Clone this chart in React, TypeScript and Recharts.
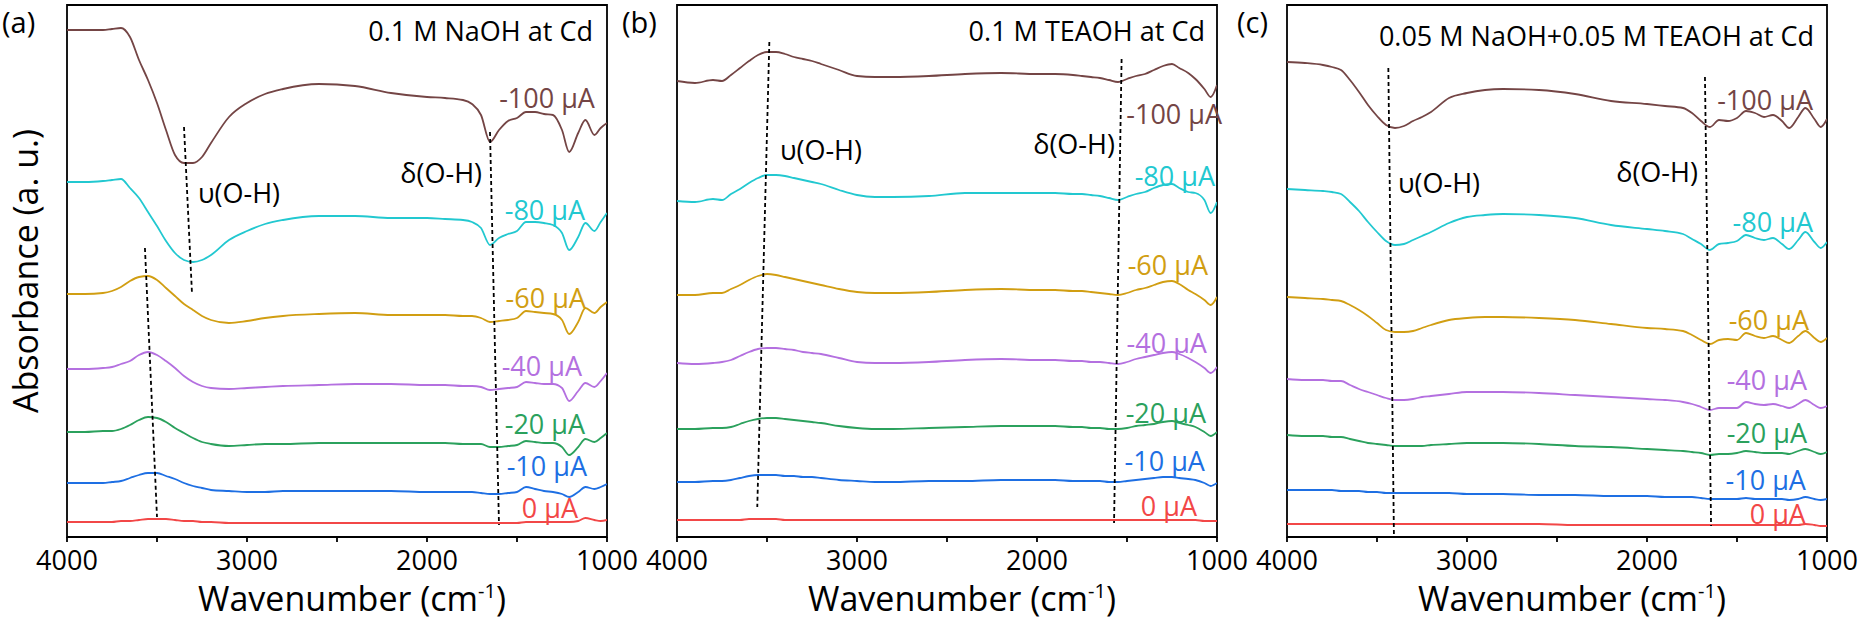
import React from 'react';
import { LineChart, Line, XAxis, YAxis, ReferenceLine, ReferenceDot, ReferenceArea } from 'recharts';

// Wavenumber grid (cm-1)
const WN = [4000, 3900, 3800, 3750, 3700, 3650, 3600, 3550, 3500, 3450, 3400, 3350, 3300, 3250, 3200, 3100, 3000, 2900, 2800, 2600, 2400, 2200, 2000, 1900, 1800, 1750, 1700, 1650, 1600, 1550, 1500, 1450, 1400, 1350, 1300, 1250, 1210, 1160, 1120, 1070, 1035, 1000];

const X_TICKS = [4000, 3500, 3000, 2500, 2000, 1500, 1000];
const X_TICK_LABELS = [4000, 3000, 2000, 1000];

const SERIES_KEYS = ['uA0', 'uA10', 'uA20', 'uA40', 'uA60', 'uA80', 'uA100'];
const SERIES_NAMES = ['0 μA', '-10 μA', '-20 μA', '-40 μA', '-60 μA', '-80 μA', '-100 μA'];

// (a) 0.1 M NaOH at Cd — stacked absorbance (a.u.)
const A_UA0 = [15, 15, 15, 15, 16, 16, 17, 18, 18, 18, 17, 16, 16, 15, 15, 14, 14, 14, 14, 14, 14, 14, 14, 14, 14, 14, 14, 14, 14, 14, 14, 15, 15, 15, 15, 15, 15, 16, 19, 17, 16, 17];
const A_UA10 = [54, 54, 54, 55, 56, 59, 62, 64, 64, 61, 58, 54, 51, 49, 47, 46, 45, 45, 46, 46, 46, 46, 45, 45, 45, 45, 44, 43, 43, 44, 45, 50, 48, 46, 45, 43, 40, 45, 50, 48, 50, 53];
const A_UA20 = [105, 105, 106, 106, 108, 112, 117, 120, 119, 115, 109, 104, 99, 95, 93, 91, 92, 93, 93, 94, 94, 94, 94, 94, 93, 93, 93, 90, 90, 91, 92, 96, 95, 94, 94, 90, 82, 90, 98, 95, 99, 104];
const A_UA40 = [168, 168, 169, 170, 173, 176, 182, 185, 182, 176, 169, 161, 155, 151, 149, 148, 149, 150, 151, 152, 153, 153, 152, 152, 151, 151, 150, 147, 148, 149, 150, 155, 154, 153, 153, 149, 136, 146, 154, 150, 156, 164];
const A_UA60 = [243, 243, 244, 246, 250, 256, 260, 261, 257, 249, 241, 233, 227, 221, 217, 214, 216, 219, 221, 223, 224, 222, 222, 222, 221, 221, 219, 215, 216, 217, 219, 226, 225, 224, 223, 217, 203, 215, 229, 224, 230, 235];
const A_UA80 = [355, 355, 356, 357, 358, 349, 339, 325, 311, 296, 284, 277, 275, 277, 282, 297, 306, 313, 317, 321, 321, 319, 319, 318, 317, 315, 309, 292, 299, 303, 306, 315, 315, 314, 312, 304, 287, 300, 314, 306, 315, 324];
const A_UA100 = [507, 507, 507, 508, 509, 500, 477, 457, 434, 407, 382, 374, 374, 380, 394, 420, 434, 443, 448, 453, 451, 444, 440, 439, 437, 433, 422, 395, 407, 416, 419, 425, 425, 423, 422, 407, 385, 404, 417, 402, 409, 414];

// (b) 0.1 M TEAOH at Cd
const B_UA0 = [17, 17, 17, 17, 17, 17, 18, 18, 18, 18, 17, 17, 17, 17, 17, 17, 17, 17, 17, 17, 17, 17, 17, 17, 17, 17, 17, 17, 17, 17, 17, 17, 17, 17, 17, 17, 17, 17, 17, 16, 16, 16];
const B_UA10 = [55, 55, 56, 56, 57, 59, 61, 62, 62, 62, 61, 61, 60, 60, 59, 57, 56, 55, 55, 56, 56, 57, 57, 57, 56, 56, 56, 56, 55, 55, 56, 57, 58, 59, 60, 60, 59, 58, 57, 54, 51, 54];
const B_UA20 = [108, 108, 109, 109, 110, 113, 116, 118, 119, 119, 118, 117, 116, 115, 114, 111, 109, 108, 108, 109, 110, 111, 111, 111, 110, 110, 109, 109, 108, 108, 109, 111, 112, 113, 115, 116, 114, 112, 110, 105, 101, 105];
const B_UA40 = [174, 173, 174, 175, 177, 181, 185, 188, 189, 189, 188, 187, 185, 184, 183, 179, 175, 174, 174, 175, 177, 178, 177, 177, 176, 176, 175, 175, 174, 173, 175, 178, 180, 182, 184, 185, 183, 179, 175, 169, 164, 170];
const B_UA60 = [242, 242, 244, 244, 248, 252, 257, 261, 263, 262, 260, 258, 256, 254, 252, 248, 245, 244, 244, 245, 247, 248, 247, 247, 246, 246, 245, 244, 243, 242, 244, 247, 249, 252, 255, 256, 253, 247, 243, 237, 232, 240];
const B_UA80 = [336, 335, 338, 337, 343, 348, 354, 359, 362, 362, 361, 359, 357, 355, 353, 347, 342, 340, 340, 341, 344, 344, 344, 344, 343, 343, 342, 341, 339, 337, 340, 343, 345, 349, 352, 353, 349, 345, 344, 337, 324, 335];
const B_UA100 = [456, 454, 457, 456, 462, 469, 476, 482, 485, 485, 483, 480, 478, 476, 473, 467, 461, 460, 460, 461, 463, 464, 463, 463, 462, 461, 460, 459, 457, 455, 458, 461, 463, 467, 471, 473, 469, 464, 458, 448, 440, 452];

// (c) 0.05 M NaOH + 0.05 M TEAOH at Cd
const C_UA0 = [13, 13, 13, 13, 13, 13, 13, 13, 13, 13, 13, 13, 13, 13, 13, 13, 13, 13, 13, 13, 12, 12, 12, 12, 12, 12, 12, 12, 12, 12, 12, 12, 12, 12, 12, 12, 12, 12, 13, 12, 11, 11];
const C_UA10 = [47, 47, 47, 47, 46, 46, 46, 45, 45, 44, 44, 44, 44, 44, 44, 44, 43, 43, 43, 42, 42, 41, 41, 40, 40, 40, 39, 38, 38, 38, 38, 39, 38, 38, 38, 38, 37, 38, 40, 38, 37, 38];
const C_UA20 = [102, 101, 101, 100, 100, 98, 96, 94, 93, 92, 91, 91, 91, 91, 92, 93, 94, 94, 94, 93, 91, 90, 88, 87, 86, 85, 84, 82, 83, 83, 84, 86, 85, 84, 84, 84, 83, 86, 88, 85, 83, 85];
const C_UA40 = [158, 157, 157, 156, 156, 152, 148, 145, 142, 139, 137, 137, 138, 140, 141, 143, 145, 145, 145, 144, 142, 140, 138, 137, 135, 133, 130, 127, 129, 129, 129, 135, 133, 132, 133, 131, 129, 133, 137, 132, 129, 131];
const C_UA60 = [240, 239, 238, 237, 236, 232, 227, 221, 214, 207, 205, 205, 206, 209, 212, 217, 219, 220, 220, 219, 217, 213, 209, 208, 206, 202, 197, 193, 197, 198, 197, 204, 201, 199, 201, 197, 194, 201, 206, 199, 195, 199];
const C_UA80 = [348, 347, 346, 345, 343, 335, 326, 315, 305, 296, 292, 293, 297, 301, 305, 314, 320, 322, 323, 322, 319, 312, 308, 306, 303, 298, 293, 287, 293, 294, 296, 302, 299, 297, 299, 293, 288, 297, 305, 295, 289, 295];
const C_UA100 = [475, 474, 472, 470, 467, 457, 445, 432, 421, 412, 409, 411, 416, 420, 425, 439, 444, 447, 448, 447, 443, 436, 433, 431, 429, 424, 416, 410, 417, 416, 419, 426, 424, 420, 422, 416, 409, 420, 429, 418, 410, 418];

const TITLES = ['0.1 M NaOH at Cd', '0.1 M TEAOH at Cd', '0.05 M NaOH+0.05 M TEAOH at Cd'];

// ---------- layout / style (not data) ----------
const COLORS = ['#F24747', '#1E6FE3', '#2BA15D', '#B470E0', '#D19E12', '#22C8D0', '#744545'];
const FONT = '"Open Sans", "Noto Sans", sans-serif';
const W = 1862;
const H = 623;
const PLOT_W = 540;
const Y_MAX = 532;

type Pt = [number, number];

interface PanelCfg {
  left: number;
  series: number[][];
  title: string;
  titleAt: Pt;
  labelAt: Pt[];
  dashes: [Pt, Pt][];
  ann: { text: string; at: Pt; anchor: 'start' | 'end' }[];
}

const PANELS: PanelCfg[] = [
  {
    left: 67,
    series: [A_UA0, A_UA10, A_UA20, A_UA40, A_UA60, A_UA80, A_UA100],
    title: TITLES[0],
    titleAt: [1078, 507],
    labelAt: [[1161, 30], [1111, 72], [1122, 114], [1139, 172], [1117, 240], [1122, 328], [1067, 440]],
    dashes: [
      [[3350, 410], [3306, 245]],
      [[3567, 289], [3500, 20]],
      [[1650, 405], [1600, 12]],
    ],
    ann: [
      { text: 'υ(O-H)', at: [3272, 345], anchor: 'start' },
      { text: 'δ(O-H)', at: [1694, 365], anchor: 'end' },
    ],
  },
  {
    left: 677,
    series: [B_UA0, B_UA10, B_UA20, B_UA40, B_UA60, B_UA80, B_UA100],
    title: TITLES[1],
    titleAt: [1067, 507],
    labelAt: [[1111, 32], [1067, 77], [1061, 125], [1056, 195], [1050, 273], [1011, 362], [972, 424]],
    dashes: [
      [[3487, 495], [3554, 30]],
      [[1530, 478], [1572, 14]],
    ],
    ann: [
      { text: 'υ(O-H)', at: [3428, 388], anchor: 'start' },
      { text: 'δ(O-H)', at: [1567, 394], anchor: 'end' },
    ],
  },
  {
    left: 1287,
    series: [C_UA0, C_UA10, C_UA20, C_UA40, C_UA60, C_UA80, C_UA100],
    title: TITLES[2],
    titleAt: [1072, 502],
    labelAt: [[1117, 24], [1117, 58], [1111, 105], [1111, 158], [1100, 218], [1078, 316], [1078, 438]],
    dashes: [
      [[3437, 469], [3406, 2]],
      [[1678, 460], [1644, 11]],
    ],
    ann: [
      { text: 'υ(O-H)', at: [3383, 355], anchor: 'start' },
      { text: 'δ(O-H)', at: [1717, 366], anchor: 'end' },
    ],
  },
];

function textLabel(text: string, color: string, anchor: 'start' | 'end' | 'middle', size = 27) {
  return {
    content: (p: any) => {
      const vb = (p && p.viewBox) || {};
      const x = (vb.x ?? 0) + (vb.width ?? 0) / 2;
      const y = (vb.y ?? 0) + (vb.height ?? 0) / 2;
      return (
        <text x={x} y={y} textAnchor={anchor} dominantBaseline="central" fill={color} fontSize={size} fontFamily={FONT}>
          {text}
        </text>
      );
    },
  };
}

const renderTick = (props: any) => {
  const { x, y, payload } = props;
  if (!X_TICK_LABELS.includes(payload.value)) return <g />;
  return (
    <text x={x} y={y} dy={26} textAnchor="middle" fontSize={27} fontFamily={FONT} fill="#000">
      {payload.value}
    </text>
  );
};

function Panel({ cfg }: { cfg: PanelCfg }) {
  const data = WN.map((w, i) => {
    const row: any = { w };
    SERIES_KEYS.forEach((k, j) => {
      row[k] = cfg.series[j][i];
    });
    return row;
  });
  return (
    <div style={{ position: 'absolute', left: 0, top: 0 }}>
      <LineChart
        width={W}
        height={H}
        data={data}
        margin={{ top: 5, bottom: 56, left: cfg.left, right: W - cfg.left - PLOT_W }}
      >
        <XAxis
          dataKey="w"
          type="number"
          domain={[1000, 4000]}
          reversed
          ticks={X_TICKS}
          interval={0}
          tickSize={5}
          tickMargin={2}
          height={30}
          allowDataOverflow
          axisLine={{ stroke: '#000', strokeWidth: 1.8 }}
          tickLine={{ stroke: '#000', strokeWidth: 1.8 }}
          tick={renderTick}
        />
        <YAxis type="number" domain={[0, Y_MAX]} hide allowDataOverflow />
        <ReferenceArea x1={4000} x2={1000} y1={0} y2={Y_MAX} fill="none" fillOpacity={0} stroke="#000" strokeWidth={1.8} />
        {SERIES_KEYS.map((k, j) => (
          <Line
            key={k}
            dataKey={k}
            type="monotone"
            stroke={COLORS[j]}
            strokeWidth={1.8}
            dot={false}
            activeDot={false}
            isAnimationActive={false}
          />
        ))}
        {cfg.dashes.map((d, i) => (
          <ReferenceLine
            key={'d' + i}
            segment={[{ x: d[0][0], y: d[0][1] }, { x: d[1][0], y: d[1][1] }]}
            stroke="#000"
            strokeWidth={1.8}
            strokeDasharray="4 3"
            ifOverflow="visible"
          />
        ))}
        {cfg.labelAt.map((p, j) => (
          <ReferenceDot
            key={'l' + j}
            x={p[0]}
            y={p[1]}
            r={0}
            fill="none"
            stroke="none"
            ifOverflow="visible"
            label={textLabel(SERIES_NAMES[j], COLORS[j], 'end')}
          />
        ))}
        {cfg.ann.map((a, i) => (
          <ReferenceDot
            key={'a' + i}
            x={a.at[0]}
            y={a.at[1]}
            r={0}
            fill="none"
            stroke="none"
            ifOverflow="visible"
            label={textLabel(a.text, '#000', a.anchor)}
          />
        ))}
        <ReferenceDot
          x={cfg.titleAt[0]}
          y={cfg.titleAt[1]}
          r={0}
          fill="none"
          stroke="none"
          ifOverflow="visible"
          label={textLabel(cfg.title, '#000', 'end')}
        />
      </LineChart>
    </div>
  );
}

function XTitle({ cx }: { cx: number }) {
  return (
    <text x={cx} y={611} textAnchor="middle" fontSize={34} fontFamily={FONT} fill="#000">
      Wavenumber (cm
      <tspan dy={-13} fontSize={20}>-1</tspan>
      <tspan dy={13} fontSize={34}>)</tspan>
    </text>
  );
}

export default function App() {
  return (
    <div style={{ position: 'absolute', left: 0, top: 0, width: W, height: H, background: '#fff', overflow: 'hidden' }}>
      {PANELS.map((cfg, i) => (
        <Panel key={i} cfg={cfg} />
      ))}
      <svg width={W} height={H} style={{ position: 'absolute', left: 0, top: 0, pointerEvents: 'none' }}>
        <text x={2} y={33} fontSize={29} fontFamily={FONT} fill="#000">(a)</text>
        <text x={622} y={33} fontSize={29} fontFamily={FONT} fill="#000">(b)</text>
        <text x={1237} y={33} fontSize={29} fontFamily={FONT} fill="#000">(c)</text>
        <text
          x={38}
          y={271}
          transform="rotate(-90 38 271)"
          textAnchor="middle"
          fontSize={34}
          fontFamily={FONT}
          fill="#000"
        >
          Absorbance (a. u.)
        </text>
        <XTitle cx={352} />
        <XTitle cx={962} />
        <XTitle cx={1572} />
      </svg>
    </div>
  );
}
